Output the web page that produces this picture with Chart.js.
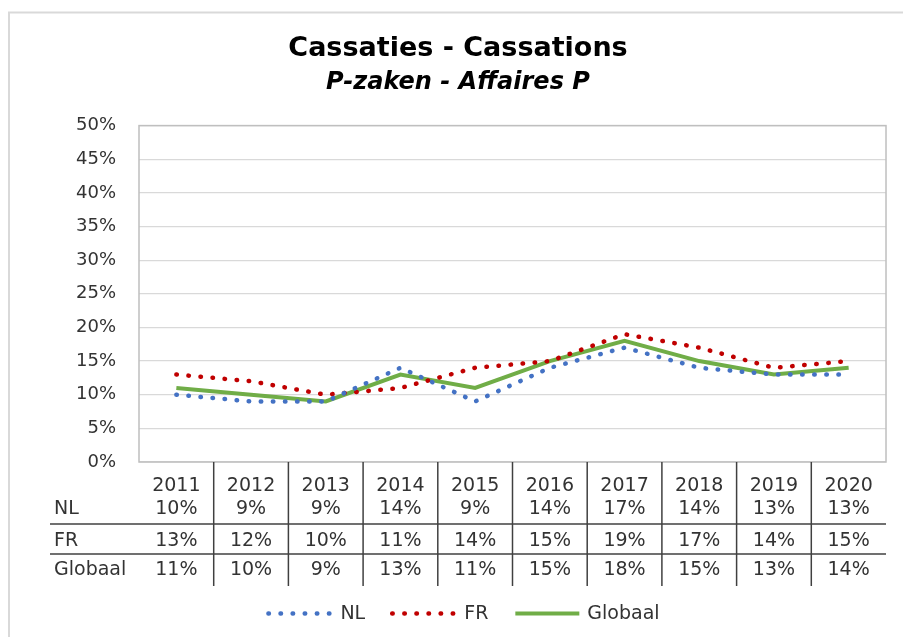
<!DOCTYPE html>
<html>
<head>
<meta charset="utf-8">
<script src="https://cdn.jsdelivr.net/npm/chart.js@4"></script>
<style>
  html, body { margin: 0; padding: 0; background: #fff; }
</style>
</head>
<body>
<canvas id="chart" width="903" height="637"></canvas>
<script>
// Cassation rates per year, in percent
const years = ['2011', '2012', '2013', '2014', '2015', '2016', '2017', '2018', '2019', '2020'];
const nlValues = [10, 9, 9, 14, 9, 14, 17, 14, 13, 13];
const frValues = [13, 12, 10, 11, 14, 15, 19, 17, 14, 15];
const globaalValues = [11, 10, 9, 13, 11, 15, 18, 15, 13, 14];
const seriesNames = ['NL', 'FR', 'Globaal'];
const yMax = 50;
const yStep = 5;

const textColor = '#333333';
const fontFamily = 'DejaVu Sans';

Chart.defaults.font.family = fontFamily;
Chart.defaults.color = textColor;

// light frame around the whole chart and around the plot area
const frames = {
    id: 'frames',
    beforeDraw(chart) {
        const ctx = chart.ctx;
        ctx.save();
        ctx.strokeStyle = '#d9d9d9';
        ctx.lineWidth = 2;
        ctx.strokeRect(9, 12.5, chart.width + 20, chart.height + 20);
        ctx.restore();
    },
    afterDraw(chart) {
        const ctx = chart.ctx, a = chart.chartArea;
        ctx.save();
        ctx.strokeStyle = '#bfbfbf';
        ctx.lineWidth = 1.5;
        ctx.strokeRect(a.left, a.top, a.right - a.left, a.bottom - a.top);
        ctx.restore();
    }
};

// data table under the x axis, one row per dataset
const dataTable = {
    id: 'dataTable',
    afterDraw(chart) {
        const ctx = chart.ctx, xs = chart.scales.x, a = chart.chartArea;
        const rowOffsets = [46.5, 78, 107.5];
        const lineOffsets = [62, 92];
        const tableLeft = 50;
        ctx.save();
        ctx.font = '19px "' + fontFamily + '"';
        ctx.fillStyle = textColor;
        ctx.textBaseline = 'middle';

        chart.data.datasets.forEach((ds, r) => {
            const y = a.bottom + rowOffsets[r] + 1;
            ctx.textAlign = 'left';
            ctx.fillText(ds.label, tableLeft + 4, y);
            ctx.textAlign = 'center';
            ds.data.forEach((v, i) => {
                ctx.fillText(v + '%', xs.getPixelForValue(i), y);
            });
        });

        ctx.strokeStyle = '#404040';
        ctx.lineWidth = 1.5;
        lineOffsets.forEach(off => {
            ctx.beginPath();
            ctx.moveTo(tableLeft, a.bottom + off);
            ctx.lineTo(a.right, a.bottom + off);
            ctx.stroke();
        });
        for (let i = 0; i < years.length - 1; i++) {
            const x = (xs.getPixelForValue(i) + xs.getPixelForValue(i + 1)) / 2;
            ctx.beginPath();
            ctx.moveTo(x, a.bottom);
            ctx.lineTo(x, a.bottom + 124);
            ctx.stroke();
        }
        ctx.restore();
    }
};

// legend drawn with the same line styles as the datasets
const lineLegend = {
    id: 'lineLegend',
    afterDraw(chart) {
        const ctx = chart.ctx;
        const lineLen = 64, gap = 8, spacing = 27, y = 613.5;
        ctx.save();
        ctx.font = '19px "' + fontFamily + '"';
        const items = chart.data.datasets.map(ds => ({ ds, w: ctx.measureText(ds.label).width }));
        const total = items.reduce((s, it) => s + lineLen + gap + it.w, 0) + spacing * (items.length - 1);
        let x = 464 - total / 2;
        items.forEach(({ ds, w }) => {
            ctx.strokeStyle = ds.borderColor;
            ctx.lineWidth = ds.borderWidth;
            ctx.lineCap = ds.borderCapStyle || 'butt';
            ctx.setLineDash(ds.borderDash || []);
            ctx.beginPath();
            ctx.moveTo(x, y);
            ctx.lineTo(x + lineLen, y);
            ctx.stroke();
            ctx.setLineDash([]);
            ctx.fillStyle = textColor;
            ctx.textAlign = 'left';
            ctx.textBaseline = 'middle';
            ctx.fillText(ds.label, x + lineLen + gap, y + 1);
            x += lineLen + gap + w + spacing;
        });
        ctx.restore();
    }
};

const dotted = [0.5, 11.6];

new Chart(document.getElementById('chart'), {
    type: 'line',
    data: {
        labels: years,
        datasets: [
            {
                label: seriesNames[0],
                data: nlValues,
                borderColor: '#4472C4',
                borderWidth: 4.5,
                borderDash: dotted,
                borderCapStyle: 'round',
                pointRadius: 0,
                tension: 0
            },
            {
                label: seriesNames[1],
                data: frValues,
                borderColor: '#C00000',
                borderWidth: 4.5,
                borderDash: dotted,
                borderCapStyle: 'round',
                pointRadius: 0,
                tension: 0
            },
            {
                label: seriesNames[2],
                data: globaalValues,
                borderColor: '#70AD47',
                borderWidth: 4,
                borderCapStyle: 'butt',
                pointRadius: 0,
                tension: 0
            }
        ]
    },
    options: {
        responsive: false,
        animation: false,
        layout: { padding: { top: 0, right: 17, bottom: 0, left: 30 } },
        plugins: {
            legend: { display: false },
            tooltip: { enabled: false },
            title: {
                display: true,
                text: 'Cassaties - Cassations',
                color: '#000',
                font: { size: 27, weight: 'bold', family: fontFamily },
                padding: { top: 33, bottom: 0 }
            },
            subtitle: {
                display: true,
                text: 'P-zaken - Affaires P',
                color: '#000',
                font: { size: 24, weight: 'bold', style: 'italic', family: fontFamily },
                padding: { top: 2.7, bottom: 28.7 }
            }
        },
        scales: {
            x: {
                offset: true,
                grid: { display: false },
                border: { display: false },
                ticks: { font: { size: 19 }, padding: 5, color: textColor },
                afterFit(scale) { scale.height = 175; }
            },
            y: {
                min: 0,
                max: yMax,
                grid: { color: '#d9d9d9', lineWidth: 1.2, drawTicks: false },
                border: { display: false },
                ticks: {
                    stepSize: yStep,
                    padding: 23,
                    font: { size: 18 },
                    color: textColor,
                    callback: v => v + '%'
                },
                afterFit(scale) { scale.width = 109; }
            }
        }
    },
    plugins: [frames, dataTable, lineLegend]
});
</script>
</body>
</html>
